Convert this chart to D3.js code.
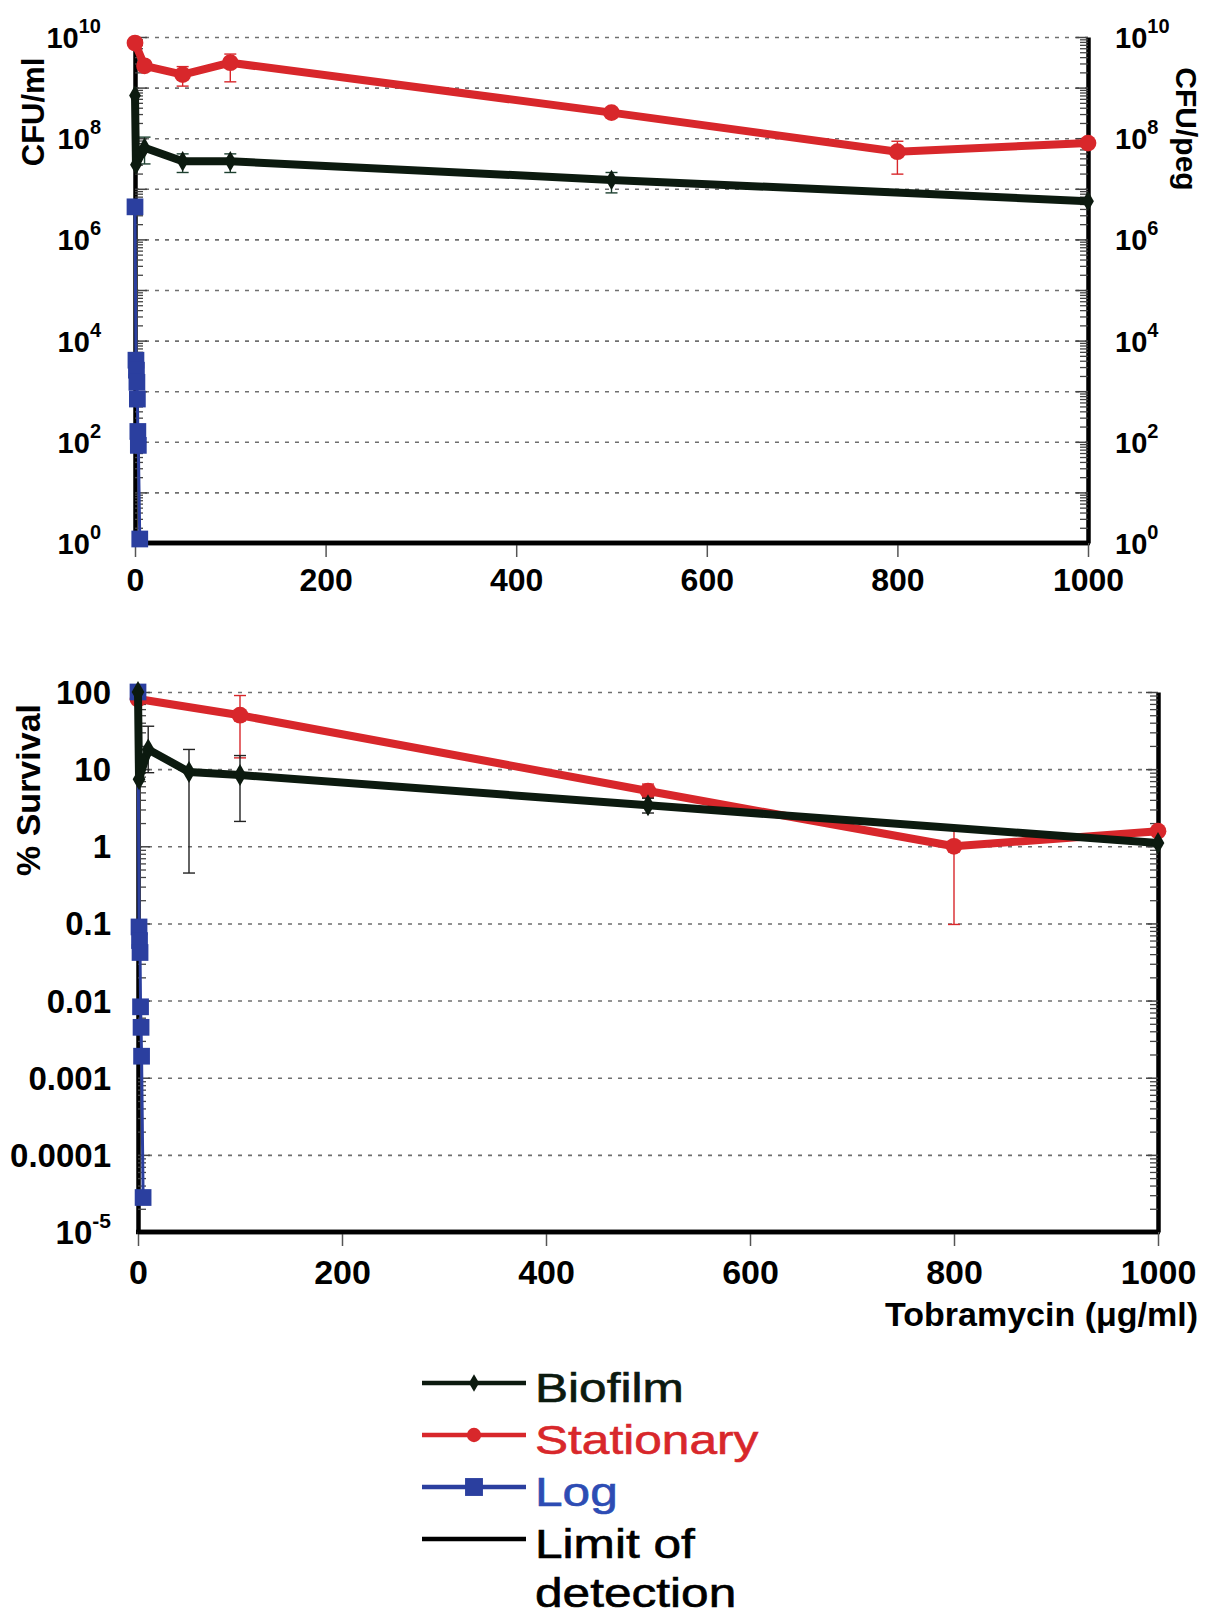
<!DOCTYPE html>
<html>
<head>
<meta charset="utf-8">
<script src="https://cdn.jsdelivr.net/npm/d3@7"></script>
<style>
  body { margin: 0; background: #fff; }
  svg { display: block; font-family: "Liberation Sans", Arial, sans-serif; }
</style>
</head>
<body>
<svg id="chart"></svg>
<script>
// concentrations (ug/ml) and readings, top panel = CFU, bottom panel = % survival
const bioX = [0, 1, 10, 50, 100, 500, 1000];
const bioCfu = [7e8, 3e7, 6.5e7, 3.5e7, 3.5e7, 1.5e7, 5.7e6];
const bioCfuLo = [null, null, 3.1e7, 2.1e7, 2.1e7, 8.3e6, null];
const bioCfuHi = [null, null, 1.05e8, 4.9e7, 4.9e7, 2.1e7, null];
const bioSurv = [100, 7.4, 18, 9.2, 8.4, 3.4, 1.1];
const bioSurvLo = [null, null, 9, 0.45, 2.1, 2.7, null];
const bioSurvHi = [null, null, 36, 18, 15, 4.2, null];

const statX = [0, 10, 50, 100, 500, 800, 1000];
const statCfu = [7.6e9, 2.7e9, 1.8e9, 3.1e9, 3.2e8, 5.4e7, 8e7];
const statCfuLo = [null, null, 1.07e9, 1.3e9, null, 1.95e7, null];
const statCfuHi = [null, null, 2.6e9, 4.6e9, null, 8.7e7, null];
const statSurvX = [0, 100, 500, 800, 1000];
const statSurv = [81, 50, 5.2, 1.0, 1.57];
const statSurvLo = [null, 14, 4.3, 0.097, null];
const statSurvHi = [null, 90, 6.4, 1.66, null];

const logX = [0, 1, 1.5, 2, 2.5, 3, 3.5, 5];
const logCfu = [4.4e6, 4.1e3, 2.6e3, 1.5e3, 7e2, 1.6e2, 85, 1.2];
const logSurv = [100, 0.09, 0.06, 0.042, 0.0083, 0.0045, 0.0019, 2.8e-5];

const limitX = [0, 1000];
const limitCfu = [1, 1];
const limitSurv = [1e-5, 1e-5];

const xTicks = [0, 200, 400, 600, 800, 1000];
const cfuTicks = [1, 1e2, 1e4, 1e6, 1e8, 1e10];
const cfuExp = ["0", "2", "4", "6", "8", "10"];
const survTicks = [1e-5, 1e-4, 1e-3, 1e-2, 0.1, 1, 10, 100];
const survLabels = ["10", "0.0001", "0.001", "0.01", "0.1", "1", "10", "100"];

const legendNames = ["Biofilm", "Stationary", "Log", "Limit of"];

const width = 1206;
const height = 1619;

const red = "#d8272b";
const blue = "#2b3f9f";
const dark = "#0c1a0f";

const svg = d3.select("#chart").attr("width", width).attr("height", height);

let pack = (xs, ys, lo, hi) => xs.map((x, i) => ({ x: x, y: ys[i], lo: lo ? lo[i] : null, hi: hi ? hi[i] : null }));

let decadesBetween = (lo, hi) => {
  let out = [];
  for (let e = Math.round(Math.log10(lo)); e <= Math.round(Math.log10(hi)); e++) out.push(Math.pow(10, e));
  return out;
};

let minorsBetween = (lo, hi) => {
  let out = [];
  for (let e = Math.round(Math.log10(lo)); e < Math.round(Math.log10(hi)); e++) {
    for (let k = 2; k <= 9; k++) out.push(k * Math.pow(10, e));
  }
  return out;
};

let drawPanel = (p) => {
  const g = svg.append("g");
  const x = d3.scaleLinear().domain([0, 1000]).range([p.x0, p.x1]);
  const y = d3.scaleLog().domain(p.yDomain).range([p.y0, p.y1]);
  const decades = decadesBetween(p.yDomain[0], p.yDomain[1]);

  // dashed grid
  g.append("g")
    .attr("transform", "translate(" + p.x0 + ",0)")
    .call(d3.axisLeft(y).tickValues(decades.slice(1)).tickSize(-(p.x1 - p.x0)).tickFormat(""))
    .call((s) => s.select(".domain").remove())
    .selectAll("line")
    .attr("stroke", "#6f6f6f")
    .attr("stroke-width", 1.6)
    .attr("stroke-dasharray", "4,6");

  // minor ticks, inside on both y axes
  const minors = minorsBetween(p.yDomain[0], p.yDomain[1]);
  [["left", p.x0], ["right", p.x1]].forEach(([side, pos]) => {
    const ax = side === "left" ? d3.axisLeft(y) : d3.axisRight(y);
    g.append("g")
      .attr("transform", "translate(" + pos + ",0)")
      .call(ax.tickValues(minors).tickSize(-8).tickSizeOuter(0).tickFormat(""))
      .call((s) => s.select(".domain").attr("stroke", "#000").attr("stroke-width", 4.5))
      .selectAll(".tick line")
      .attr("stroke", "#444")
      .attr("stroke-width", 1.3);
    g.append("g")
      .attr("transform", "translate(" + pos + ",0)")
      .call(ax.tickValues(decades).tickSize(-12).tickSizeOuter(0).tickFormat(""))
      .call((s) => s.select(".domain").remove())
      .selectAll(".tick line")
      .attr("stroke", "#444")
      .attr("stroke-width", 1.5);
  });

  // x axis
  const xa = g.append("g")
    .attr("transform", "translate(0," + p.y0 + ")")
    .call(d3.axisBottom(x).tickValues(xTicks).tickFormat(d3.format("d")).tickSize(14).tickSizeOuter(0).tickPadding(p.xPad));
  xa.select(".domain").attr("stroke", "#000").attr("stroke-width", 4.5).attr("d", "M" + (p.x0 - 2) + ",0H" + (p.x1 + 2));
  xa.selectAll(".tick line").attr("stroke", "#555").attr("stroke-width", 1.5);
  xa.selectAll(".tick text")
    .attr("fill", "#000")
    .attr("font-size", p.xFont)
    .attr("font-weight", "bold")
    .attr("font-family", "Liberation Sans, Arial, sans-serif");

  const line = d3.line().x((d) => x(d.x)).y((d) => y(d.y));

  // limit of detection
  g.append("path")
    .datum(pack(limitX, p.limit))
    .attr("d", line)
    .attr("fill", "none")
    .attr("stroke", "#000")
    .attr("stroke-width", 4.5);

  p.series.forEach((s) => {
    const data = pack(s.xs, s.ys, s.lo, s.hi);
    const eb = g.append("g");
    data.filter((d) => d.lo != null).forEach((d) => {
      eb.append("line").attr("x1", x(d.x)).attr("x2", x(d.x)).attr("y1", y(d.lo)).attr("y2", y(d.hi));
      eb.append("line").attr("x1", x(d.x) - 6).attr("x2", x(d.x) + 6).attr("y1", y(d.lo)).attr("y2", y(d.lo));
      eb.append("line").attr("x1", x(d.x) - 6).attr("x2", x(d.x) + 6).attr("y1", y(d.hi)).attr("y2", y(d.hi));
    });
    eb.selectAll("line").attr("stroke", s.errColor).attr("stroke-width", 1.4);

    g.append("path")
      .datum(data)
      .attr("d", line)
      .attr("fill", "none")
      .attr("stroke", s.color)
      .attr("stroke-width", s.lineWidth)
      .attr("stroke-linejoin", "round");

    g.selectAll(null)
      .data(data)
      .enter()
      .append("path")
      .attr("d", d3.symbol(s.symbol, s.size))
      .attr("transform", (d) => "translate(" + x(d.x) + "," + y(d.y) + ")")
      .attr("fill", s.color);
  });

  return { g: g, x: x, y: y };
};

// ---------- top panel ----------
const topPanel = drawPanel({
  x0: 135, x1: 1088, y0: 543, y1: 37,
  yDomain: [1, 1e10],
  xPad: 11, xFont: 32,
  limit: limitCfu,
  series: [
    { xs: statX, ys: statCfu, lo: statCfuLo, hi: statCfuHi, color: red, errColor: red, symbol: d3.symbolCircle, size: 220, lineWidth: 8 },
    { xs: logX, ys: logCfu, color: blue, errColor: blue, symbol: d3.symbolSquare, size: 280, lineWidth: 3 },
    { xs: bioX, ys: bioCfu, lo: bioCfuLo, hi: bioCfuHi, color: dark, errColor: "#1d4030", symbol: d3.symbolDiamond, size: 120, lineWidth: 8 }
  ]
});

[["end", 101], ["start", 1115]].forEach(([anchor, xpos]) => {
  const t = topPanel.g.selectAll(null)
    .data(cfuTicks)
    .enter()
    .append("text")
    .attr("x", xpos)
    .attr("y", (d) => topPanel.y(d) + 11)
    .attr("text-anchor", anchor)
    .attr("font-weight", "bold")
    .attr("fill", "#000");
  t.append("tspan").attr("font-size", 29).text("10");
  t.append("tspan").attr("font-size", 20).attr("dy", -15).text((d, i) => cfuExp[i]);
});

topPanel.g.append("text")
  .attr("transform", "translate(44,112) rotate(-90)")
  .attr("text-anchor", "middle")
  .attr("font-size", 31)
  .attr("font-weight", "bold")
  .text("CFU/ml");

topPanel.g.append("text")
  .attr("transform", "translate(1176,129) rotate(90)")
  .attr("text-anchor", "middle")
  .attr("font-size", 30)
  .attr("font-weight", "bold")
  .text("CFU/peg");

// ---------- bottom panel ----------
const bottomPanel = drawPanel({
  x0: 138, x1: 1158, y0: 1232, y1: 692,
  yDomain: [1e-5, 100],
  xPad: 14, xFont: 34,
  limit: limitSurv,
  series: [
    { xs: statSurvX, ys: statSurv, lo: statSurvLo, hi: statSurvHi, color: red, errColor: red, symbol: d3.symbolCircle, size: 220, lineWidth: 8 },
    { xs: logX, ys: logSurv, color: blue, errColor: blue, symbol: d3.symbolSquare, size: 280, lineWidth: 3 },
    { xs: bioX, ys: bioSurv, lo: bioSurvLo, hi: bioSurvHi, color: dark, errColor: "#222", symbol: d3.symbolDiamond, size: 140, lineWidth: 8 }
  ]
});

const st = bottomPanel.g.selectAll(null)
  .data(survTicks)
  .enter()
  .append("text")
  .attr("x", 111)
  .attr("y", (d) => bottomPanel.y(d) + 12)
  .attr("text-anchor", "end")
  .attr("font-weight", "bold")
  .attr("fill", "#000");
st.append("tspan").attr("font-size", 33).text((d, i) => survLabels[i]);
st.filter((d, i) => i === 0).append("tspan").attr("font-size", 21).attr("dy", -16).text("-5");

bottomPanel.g.append("text")
  .attr("transform", "translate(40,790) rotate(-90)")
  .attr("text-anchor", "middle")
  .attr("font-size", 34)
  .attr("font-weight", "bold")
  .text("% Survival");

bottomPanel.g.append("text")
  .attr("x", 1198)
  .attr("y", 1326)
  .attr("text-anchor", "end")
  .attr("font-size", 34)
  .attr("font-weight", "bold")
  .text("Tobramycin (\u03bcg/ml)");

// ---------- legend ----------
const legendColors = [dark, red, "#2d4cb4", "#000"];
const legendLine = [dark, red, blue, "#000"];
const legendSym = [d3.symbolDiamond, d3.symbolCircle, d3.symbolSquare, null];
const legendSize = [90, 160, 320, 0];

const legend = svg.append("g");
legendNames.forEach((name, i) => {
  const cy = 1383 + i * 52;
  legend.append("line")
    .attr("x1", 422).attr("x2", 526)
    .attr("y1", cy).attr("y2", cy)
    .attr("stroke", legendLine[i])
    .attr("stroke-width", 4.5);
  if (legendSym[i]) {
    legend.append("path")
      .attr("d", d3.symbol(legendSym[i], legendSize[i]))
      .attr("transform", "translate(474," + cy + ")")
      .attr("fill", legendLine[i]);
  }
  legend.append("text")
    .attr("transform", "translate(535," + (cy + 19) + ") scale(1.24,1)")
    .attr("font-size", 40)
    .attr("fill", legendColors[i])
    .attr("stroke", legendColors[i])
    .attr("stroke-width", 0.6)
    .text(name);
});
legend.append("text")
  .attr("transform", "translate(535," + (1383 + 4 * 52 + 16) + ") scale(1.24,1)")
  .attr("font-size", 40)
  .attr("fill", "#000")
  .attr("stroke", "#000")
  .attr("stroke-width", 0.6)
  .text("detection");
</script>
</body>
</html>
